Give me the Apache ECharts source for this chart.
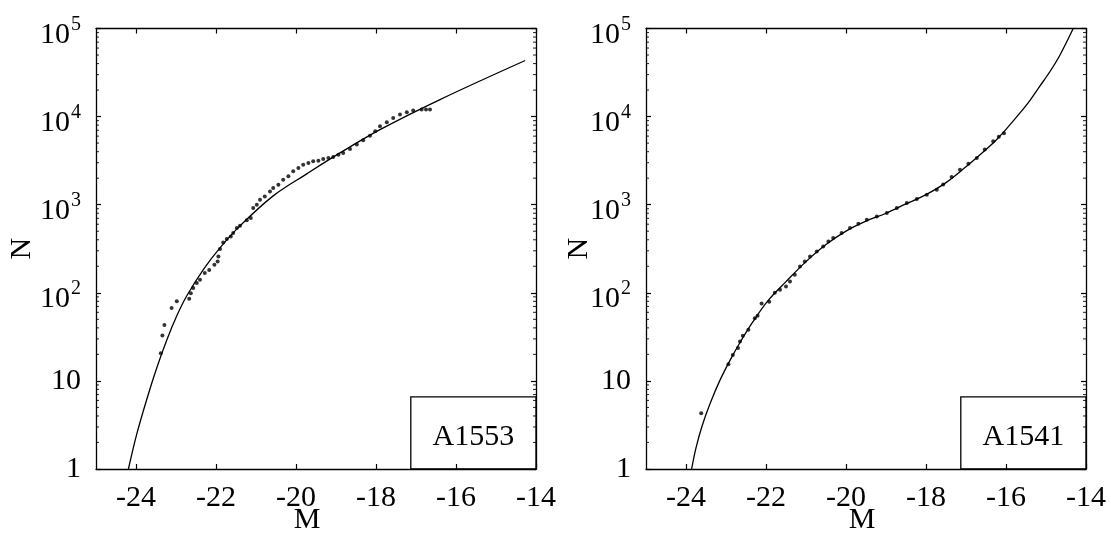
<!DOCTYPE html>
<html>
<head>
<meta charset="utf-8">
<script src="https://cdn.jsdelivr.net/npm/echarts@6/dist/echarts.min.js"></script>
<style>
html, body { margin: 0; padding: 0; background: #fff; }
#chart { width: 1111px; height: 533px; }
</style>
</head>
<body>
<div id="chart"></div>
<script>
// A1553: fitted curve (M, N)
const leftCurveM = [-24.19, -23.98, -23.73, -23.48, -23.23, -22.98, -22.73, -22.30, -21.90, -21.40, -20.57, -19.73, -18.90, -17.90, -16.40, -14.27];
const leftCurveN = [1, 2.5, 6.2, 14.1, 29.2, 54.8, 92.5, 188, 324, 575, 1259, 2240, 3870, 7110, 15600, 43300];
// A1553: counts
const leftDotsM = [-23.38, -23.34, -23.29, -23.11, -22.98, -22.67, -22.63, -22.57, -22.48, -22.40, -22.28, -22.17, -22.04, -21.96, -21.94, -21.90, -21.82, -21.73, -21.63, -21.57, -21.48, -21.40, -21.23, -21.13,
    -21.07, -20.98, -20.90, -20.78, -20.65, -20.57, -20.44, -20.32, -20.19, -20.07, -19.94, -19.82, -19.69, -19.57, -19.44, -19.32, -19.19, -19.07, -18.94, -18.82, -18.65, -18.48, -18.32, -18.15, -18.02, -17.90, -17.73, -17.57, -17.40, -17.23, -17.07, -16.86, -16.75, -16.65];
const leftDotsN = [20.6, 32.7, 43, 67, 80, 85.5, 99, 113, 129, 141, 168, 182, 208, 227, 259, 314, 373, 408, 436, 476, 543, 577, 664, 706,
    917, 1000, 1140, 1243, 1415, 1550, 1688, 1923, 2100, 2390, 2610, 2850, 2980, 3110, 3160, 3300, 3390, 3480, 3700, 3870, 4300, 4810, 5380, 6080, 6800, 7760, 8610, 9660, 10540, 11200, 11700, 12000, 12000, 12000];

// A1541: fitted curve
const rightCurveM = [-23.86, -23.75, -23.60, -23.40, -23.15, -22.90, -22.65, -22.33, -21.95, -21.50, -21.00, -20.50, -20.00, -19.50, -19.00, -18.50, -18.00, -17.50, -17.00, -16.50, -16.25, -16.00, -15.65, -15.40, -15.15, -14.90, -14.65, -14.32];
const rightCurveN = [1, 1.74, 3.06, 5.5, 10.2, 17.1, 27.3, 46.7, 81.5, 134, 226, 353, 502, 650, 800, 1020, 1300, 1780, 2700, 4240, 5400, 7160, 11000, 15300, 22300, 32500, 50100, 100000];
// A1541: counts
const rightDotsM = [-23.62, -22.94, -22.83, -22.70, -22.65, -22.58, -22.44, -22.28, -22.21, -22.11, -21.92, -21.78, -21.65, -21.50, -21.40, -21.28,
    -21.15, -21.03, -20.90, -20.73, -20.57, -20.44, -20.32, -20.11, -19.90, -19.69, -19.48, -19.23, -18.98, -18.73, -18.48, -18.23, -17.98, -17.73, -17.57, -17.36, -17.15, -16.94, -16.73, -16.53, -16.32, -16.18, -16.05];
const rightDotsN = [4.3, 15.5, 19.7, 23.7, 28, 32.5, 38, 51.5, 55, 75.5, 79, 100, 108, 118, 134, 160,
    199, 227, 259, 295, 336, 383, 419, 476, 543, 608, 676, 736, 804, 917, 1045, 1160, 1300, 1480, 1690, 2060, 2500, 2920, 3390, 4220, 5240, 5900, 6470];

const clusterNames = ["A1553", "A1541"];
const xTickValues = [-24, -22, -20, -18, -16, -14];
const minorTickValues = [2, 3, 4, 5, 6, 7, 8, 9, 20, 30, 40, 50, 60, 70, 80, 90, 200, 300, 400, 500, 600, 700, 800, 900, 2000, 3000, 4000, 5000, 6000, 7000, 8000, 9000, 20000, 30000, 40000, 50000, 60000, 70000, 80000, 90000];

const FONT = "Liberation Serif";
const X_MIN = -25, X_MAX = -14;

function zip(a, b) {
    return a.map((v, i) => [v, b[i]]);
}

function yLabel(value) {
    const e = Math.round(Math.log10(value));
    if (e === 0) return "1";
    if (e === 1) return "10";
    return "{b|10}{s|" + e + "}";
}

const lineAxis = { lineStyle: { color: "#000", width: 1.3 } };

function bottomX(gridIndex, shift) {
    return {
        type: "value", gridIndex: gridIndex, min: X_MIN, max: X_MAX,
        name: "M", nameLocation: "middle", nameGap: 36, nameMoveOverlap: false,
        nameTextStyle: { fontFamily: FONT, fontSize: 30, color: "#000", padding: [0, shift, 0, 0] },
        axisLine: lineAxis,
        axisTick: { inside: true, length: 5, customValues: xTickValues, lineStyle: { color: "#000", width: 1.2 } },
        axisLabel: { customValues: xTickValues, fontFamily: FONT, fontSize: 30, color: "#000", margin: 14 },
        splitLine: { show: false }
    };
}

function topX(gridIndex) {
    return {
        type: "value", gridIndex: gridIndex, position: "top", min: X_MIN, max: X_MAX,
        axisLine: lineAxis,
        axisTick: { inside: true, length: 5, customValues: xTickValues, lineStyle: { color: "#000", width: 1.2 } },
        axisLabel: { show: false },
        splitLine: { show: false }
    };
}

function leftY(gridIndex, gap) {
    return {
        type: "log", logBase: 10, gridIndex: gridIndex, min: 1, max: 100000,
        name: "N", nameLocation: "middle", nameGap: gap, nameMoveOverlap: false,
        nameTextStyle: { fontFamily: FONT, fontSize: 30, color: "#000" },
        axisLine: lineAxis,
        axisTick: { inside: true, length: 5, lineStyle: { color: "#000", width: 1.2 } },
        axisLabel: {
            fontFamily: FONT, fontSize: 30, color: "#000", margin: 15,
            formatter: yLabel,
            rich: {
                b: { fontFamily: FONT, fontSize: 30, color: "#000", lineHeight: 43, verticalAlign: "bottom" },
                s: { fontFamily: FONT, fontSize: 20, color: "#000", verticalAlign: "top", padding: [7.5, 0, 0, 1] }
            }
        },
        splitLine: { show: false }
    };
}

function rightY(gridIndex) {
    return {
        type: "log", logBase: 10, gridIndex: gridIndex, position: "right", min: 1, max: 100000,
        axisLine: lineAxis,
        axisTick: { inside: true, length: 5, lineStyle: { color: "#000", width: 1.2 } },
        axisLabel: { show: false },
        splitLine: { show: false }
    };
}

function panelSeries(p, curveM, curveN, dotsM, dotsN, name) {
    const xi = p * 2, yi = p * 2;
    return [
        {
            type: "line", xAxisIndex: xi, yAxisIndex: yi,
            data: zip(curveM, curveN), showSymbol: false, smooth: 0.35,
            lineStyle: { color: "#000", width: 1.3 }, silent: true, z: 3
        },
        {
            type: "scatter", xAxisIndex: xi, yAxisIndex: yi,
            data: zip(dotsM, dotsN), symbol: "circle", symbolSize: 4,
            itemStyle: { color: "#000" }, silent: true, z: 4,
            markArea: {
                silent: true,
                itemStyle: { color: "rgba(0,0,0,0)", borderColor: "#000", borderWidth: 1.3 },
                label: { show: true, position: "inside", fontFamily: FONT, fontSize: 30, color: "#000", offset: [0, 4] },
                data: [[{ name: name, xAxis: -17.13, yAxis: 1 }, { xAxis: X_MAX, yAxis: 6.6 }]]
            }
        },
        {
            // minor log ticks, left side
            type: "scatter", xAxisIndex: xi, yAxisIndex: yi, clip: false,
            data: minorTickValues.map(v => [X_MIN, v]),
            symbol: "rect", symbolSize: [3, 1.1], symbolOffset: [1.5, 0],
            itemStyle: { color: "#000" }, silent: true
        },
        {
            // minor log ticks, right side
            type: "scatter", xAxisIndex: xi, yAxisIndex: yi, clip: false,
            data: minorTickValues.map(v => [X_MAX, v]),
            symbol: "rect", symbolSize: [3, 1.1], symbolOffset: [-1.5, 0],
            itemStyle: { color: "#000" }, silent: true
        }
    ];
}

const chart = echarts.init(document.getElementById("chart"), null, { renderer: "canvas" });
chart.setOption({
    animation: false,
    backgroundColor: "#fff",
    grid: [
        { left: 96, top: 28.5, width: 440, height: 440.5, outerBoundsMode: "none", containLabel: false },
        { left: 646, top: 28.5, width: 440, height: 440.5, outerBoundsMode: "none", containLabel: false }
    ],
    xAxis: [bottomX(0, 18), topX(0), bottomX(1, 8), topX(1)],
    yAxis: [leftY(0, 59), rightY(0), leftY(1, 52), rightY(1)],
    series: [].concat(
        panelSeries(0, leftCurveM, leftCurveN, leftDotsM, leftDotsN, clusterNames[0]),
        panelSeries(1, rightCurveM, rightCurveN, rightDotsM, rightDotsN, clusterNames[1])
    )
});
</script>
</body>
</html>
